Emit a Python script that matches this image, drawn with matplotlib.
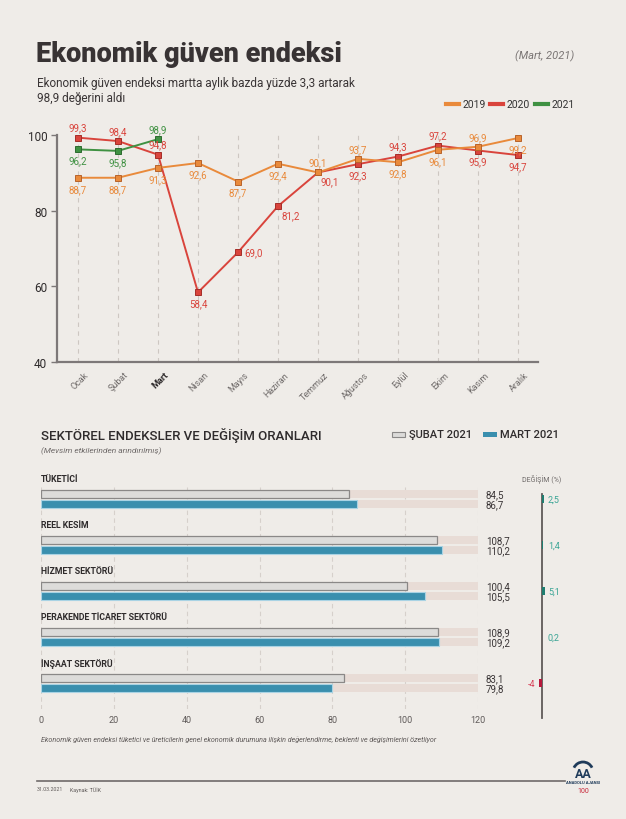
import numpy as np
import matplotlib
matplotlib.use('Agg')
import matplotlib.pyplot as plt
from matplotlib.lines import Line2D
from matplotlib.patches import Rectangle, Arc

# Line chart data
months = ['Ocak', 'Şubat', 'Mart', 'Nisan', 'Mayıs', 'Haziran', 'Temmuz',
          'Ağustos', 'Eylül', 'Ekim', 'Kasım', 'Aralık']
y2019 = [88.7, 88.7, 91.3, 92.6, 87.7, 92.4, 90.1, 93.7, 92.8, 96.1, 96.9, 99.2]
y2020 = [99.3, 98.4, 94.8, 58.4, 69.0, 81.2, 90.1, 92.3, 94.3, 97.2, 95.9, 94.7]
y2021 = [96.2, 95.8, 98.9]

# where each value label goes (a above, b below, r right, br below-right)
pos2019 = ['b', 'b', 'b', 'b', 'b', 'b', 'a', 'a', 'b', 'b', 'a', 'b']
pos2020 = ['a', 'a', 'a', 'b', 'r', 'br', 'br', 'b', 'a', 'a', 'b', 'b']
pos2021 = ['b', 'b', 'a']

# Sector data
sectors = ['TÜKETİCİ', 'REEL KESİM', 'HİZMET SEKTÖRÜ', 'PERAKENDE TİCARET SEKTÖRÜ', 'İNŞAAT SEKTÖRÜ']
subat = [84.5, 108.7, 100.4, 108.9, 83.1]
mart = [86.7, 110.2, 105.5, 109.2, 79.8]
degisim = [2.5, 1.4, 5.1, 0.2, -4]

BG = '#efece8'
C19, C20, C21 = '#e98a3b', '#d9443c', '#3f9142'
E19, E20, E21 = '#b8632a', '#a52d28', '#2b6b2e'
TEAL = '#3a8fae'

plt.rcParams['font.family'] = ['Roboto', 'DejaVu Sans']

W, H = 626, 820
fig = plt.figure(figsize=(W / 100, H / 100), dpi=100, facecolor=BG)


def fx(px):
    return px / W


def fy(py):
    return 1 - py / H


def rect(x0, y0, x1, y1):
    return [fx(x0), fy(y1), (x1 - x0) / W, (y1 - y0) / H]


def fmt(v):
    return f'{v:g}'.replace('.', ',') if v != int(v) or abs(v) < 10 else f'{v:.1f}'.replace('.', ',')


# header
fig.text(fx(36), fy(62), 'Ekonomik güven endeksi', fontsize=19.5, fontweight='heavy',
         color='#383334', va='baseline')
fig.text(fx(574), fy(59), '(Mart, 2021)', fontsize=8, style='italic', color='#7a7574',
         ha='right', va='baseline')
fig.text(fx(37), fy(87), 'Ekonomik güven endeksi martta aylık bazda yüzde 3,3 artarak',
         fontsize=8.5, color='#3a3536', va='baseline')
fig.text(fx(37), fy(102), '98,9 değerini aldı', fontsize=8.5, color='#3a3536', va='baseline')

for x0, c, lab in [(446, C19, '2019'), (490, C20, '2020'), (535, C21, '2021')]:
    fig.add_artist(Line2D([fx(x0), fx(x0 + 13)], [fy(105), fy(105)], lw=3, color=c))
    fig.text(fx(x0 + 17), fy(105), lab, fontsize=7.5, color='#333', va='center')

# line chart
ax = fig.add_axes(rect(57, 136, 538, 363))
ax.set_facecolor('none')
x = np.arange(len(months))
ax.set_xlim(-0.525, 11.5)
ax.set_ylim(40, 100)
for xi in x:
    ax.plot([xi, xi], [40, 100.5], ls=(0, (4, 4)), color='#cdc7c2', lw=0.8, zorder=0, clip_on=False)

offs = {'a': (0, 10, 'center'), 'b': (0, -11, 'center'), 'r': (6, 0, 'left'),
        'br': (3, -9, 'left')}
for ys, pos, c, e, z in [(y2020, pos2020, C20, E20, 3), (y2019, pos2019, C19, E19, 4),
                         (y2021, pos2021, C21, E21, 5)]:
    xs = x[:len(ys)]
    ax.plot(xs, ys, color=c, lw=1.4, marker='s', ms=5, mfc=c, mec=e, mew=0.7,
            clip_on=False, zorder=z)
    for xi, yi, p in zip(xs, ys, pos):
        dx, dy, ha = offs[p]
        ax.annotate(f'{yi:.1f}'.replace('.', ','), (xi, yi), xytext=(dx, dy),
                    textcoords='offset pixels', ha=ha, va='center', fontsize=7,
                    color=c, zorder=6)

for s in ['top', 'right']:
    ax.spines[s].set_visible(False)
for s in ['left', 'bottom']:
    ax.spines[s].set_color('#7d7878')
    ax.spines[s].set_linewidth(1.6)
ax.set_yticks([40, 60, 80, 100])
ax.tick_params(axis='y', length=4, width=1, color='#7d7878', labelsize=8.5,
               labelcolor='#2f2b2c', pad=3)
ax.set_xticks([])
for i, m in enumerate(months):
    ax.annotate(m, (i, 0), xycoords=('data', 'axes fraction'), xytext=(9, -11),
                textcoords='offset pixels', rotation=45, ha='right', va='center',
                rotation_mode='anchor', fontsize=6.5,
                color='#2f2b2c' if m == 'Mart' else '#6f6a69',
                fontweight='bold' if m == 'Mart' else 'normal')

# sector section header
fig.text(fx(41), fy(436), 'SEKTÖREL ENDEKSLER VE DEĞİŞİM ORANLARI', fontsize=9.5,
         fontweight='medium', color='#2f2b2c', va='center')
fig.text(fx(41), fy(451), '(Mevsim etkilerinden arındırılmış)', fontsize=6,
         style='italic', color='#6f6a69', va='center')
fig.add_artist(Rectangle((fx(392), fy(438)), 13 / W, 5 / H, facecolor='#dcdbd9',
                         edgecolor='#8a8887', lw=0.8))
fig.text(fx(409), fy(435), 'ŞUBAT 2021', fontsize=8, fontweight='medium', color='#2f2b2c', va='center')
fig.add_artist(Rectangle((fx(483), fy(438)), 14 / W, 5 / H, facecolor=TEAL,
                         edgecolor='none'))
fig.text(fx(500), fy(435), 'MART 2021', fontsize=8, fontweight='medium', color='#2f2b2c', va='center')

# bar chart
ax2 = fig.add_axes(rect(41, 488, 478, 710))
ax2.set_facecolor('none')
ax2.set_xlim(0, 120)
ax2.set_ylim(4.565, -0.261)
yc = np.arange(len(sectors))
bh = 0.16
ax2.barh(yc - 0.109, 120, height=bh, color='#e8dcd6', zorder=1)
ax2.barh(yc + 0.109, 120, height=bh, color='#e8dcd6', zorder=1)
ax2.barh(yc - 0.109, subat, height=bh, color='#dddcda', edgecolor='#8a8887', lw=0.9, zorder=2)
ax2.barh(yc + 0.109, mart, height=bh, color=TEAL, edgecolor='#a9d3e4', lw=0.8, zorder=2)
for i in yc:
    ax2.text(0, i - 0.435, sectors[i], fontsize=6.3, fontweight='bold', color='#2f2b2c',
             va='center', ha='left')
    ax2.annotate(fmt(subat[i]), (120, i - 0.109), xytext=(8, 0), textcoords='offset pixels',
                 va='center', fontsize=7, color='#3a3536', annotation_clip=False)
    ax2.annotate(fmt(mart[i]), (120, i + 0.109), xytext=(8, 0), textcoords='offset pixels',
                 va='center', fontsize=7, color='#3a3536', annotation_clip=False)
ax2.set_xticks(range(0, 121, 20))
ax2.set_yticks([])
ax2.grid(axis='x', ls=(0, (4, 3)), color='#d6d0cb', lw=0.8)
ax2.set_axisbelow(True)
ax2.tick_params(axis='x', length=0, labelsize=6.5, labelcolor='#5f5a59', pad=4)
for s in ax2.spines.values():
    s.set_visible(False)

# change axis
ax3 = fig.add_axes(rect(512, 488, 572, 710))
ax3.set_facecolor('none')
ax3.set_xlim(-46, 46)
ax3.set_ylim(4.565, -0.261)
ax3.axis('off')
ax3.plot([0, 0], [-0.109, 4.76], color='#5f5a59', lw=1.3, clip_on=False)
for i, v in enumerate(degisim):
    c = '#1f7d70' if v >= 0 else '#b8183c'
    tc = '#3aa595' if v >= 0 else '#d8465c'
    ax3.barh(i, v, height=0.17, color=c, zorder=3)
    if v >= 0:
        ax3.annotate(fmt(v), (0, i), xytext=(6, 0), textcoords='offset pixels',
                     va='center', ha='left', fontsize=6.5, color=tc)
    else:
        ax3.annotate(fmt(v), (v, i), xytext=(-4, 0), textcoords='offset pixels',
                     va='center', ha='right', fontsize=6.5, color=tc)
fig.text(fx(542), fy(480), 'DEĞİŞİM (%)', fontsize=5, color='#6f6a69', ha='center', va='center')

# footnote and footer
fig.text(fx(41), fy(740), 'Ekonomik güven endeksi tüketici ve üreticilerin genel ekonomik '
         'durumuna ilişkin değerlendirme, beklenti ve değişimlerini özetliyor',
         fontsize=5.1, style='italic', color='#5f5a59', va='center')
fig.add_artist(Line2D([fx(37), fx(565)], [fy(782), fy(782)], lw=1.2, color='#6f6a69'))
fig.text(fx(37), fy(790), '31.03.2021', fontsize=3.8, color='#5f5a59', va='center')
fig.text(fx(70), fy(790), 'Kaynak: TÜİK', fontsize=3.8, color='#5f5a59', va='center')
fig.add_artist(Arc((fx(583), fy(773)), 20 / W, 20 / H, theta1=20, theta2=160,
                   color='#1f3b5a', lw=2))
fig.text(fx(583), fy(775), 'AA', fontsize=9, fontweight='bold', color='#1f3b5a',
         ha='center', va='center')
fig.text(fx(583), fy(783), 'ANADOLU AJANSI', fontsize=3, fontweight='bold',
         color='#1f3b5a', ha='center', va='center')
fig.text(fx(583), fy(792), '100', fontsize=5, color='#c8283a', ha='center', va='center')

fig.savefig('out.png', dpi=100, facecolor=BG)
